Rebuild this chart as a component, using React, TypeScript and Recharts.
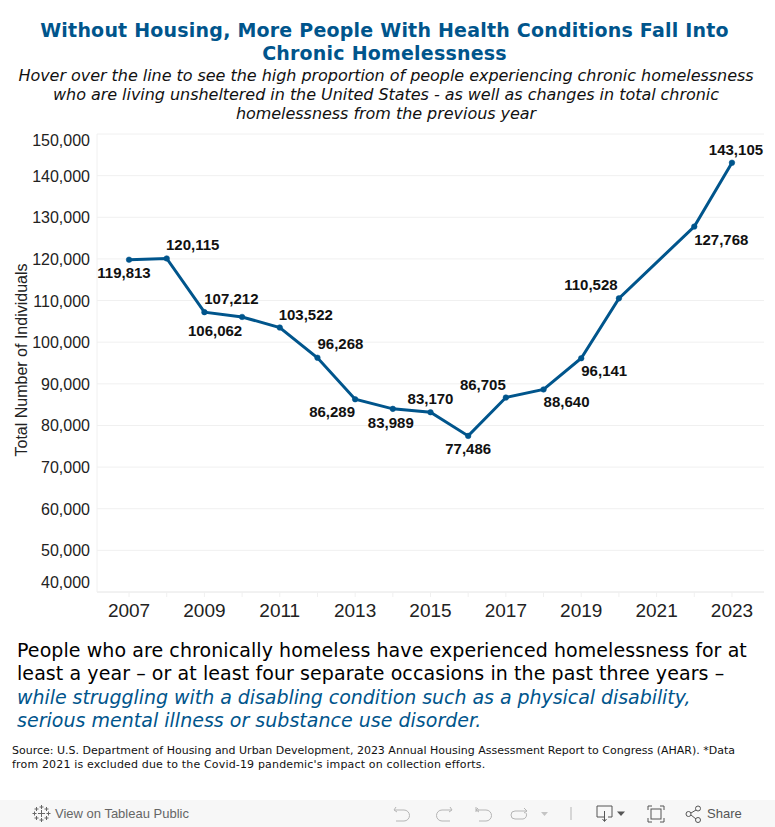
import React from "react";
import { LineChart, Line, XAxis, YAxis, CartesianGrid, ReferenceLine } from "recharts";

const years = [2007, 2008, 2009, 2010, 2011, 2012, 2013, 2014, 2015, 2016, 2017, 2018, 2019, 2020, 2022, 2023];
const totals = [119813, 120115, 107212, 106062, 103522, 96268, 86289, 83989, 83170, 77486, 86705, 88640, 96141, 110528, 127768, 143105];
const yTicks = [40000, 50000, 60000, 70000, 80000, 90000, 100000, 110000, 120000, 130000, 140000, 150000];
const xTicks = [2007, 2008, 2009, 2010, 2011, 2012, 2013, 2014, 2015, 2016, 2017, 2018, 2019, 2020, 2021, 2022, 2023];
const yAxisTitle = "Total Number of Individuals";
const labelDx = [-5, 26, 27, -27, 26, 23, -23, -2, 0, 0, -23, 23, 23, -28, 27, 4];
const labelDy = [13, -13, -13, 14, -13, -14, 13, 14, -13, 13, -13, 13, 13, -13, 13, -13];

const titleLines = ["Without Housing, More People With Health Conditions Fall Into", "Chronic Homelessness"];
const subtitleLines = [
  "Hover over the line to see the high proportion of people experiencing chronic homelessness",
  "who are living unsheltered in the United States - as well as changes in total chronic",
  "homelessness from the previous year",
];
const bodyLines = [
  "People who are chronically homeless have experienced homelessness for at",
  "least a year – or at least four separate occasions in the past three years –",
];
const bodyItalicLines = [
  "while struggling with a disabling condition such as a physical disability,",
  "serious mental illness or substance use disorder.",
];
const bodyItalicSpacing = [-0.05, 0.02];
const sourceLines = [
  "Source: U.S. Department of Housing and Urban Development, 2023 Annual Housing Assessment Report to Congress (AHAR). *Data",
  "from 2021 is excluded due to the Covid-19 pandemic's impact on collection efforts.",
];
const sourceSpacing = [0, 0.17];

const rows = years.map((year, i) => ({ year, total: totals[i] }));
const BLUE = "#00558c";
const GRID = "#f0f0f0";
const SANS = "'Liberation Sans', Arial, sans-serif";
const DEJA = "'DejaVu Sans', sans-serif";

const YTick = (p: any) => {
  const v = p.payload.value;
  const dy = v === 150000 ? 12 : v === 40000 ? -4 : 6;
  return (
    <text x={90} y={p.y + dy} textAnchor="end" fontFamily={SANS} fontSize={16} fill="#222">
      {v.toLocaleString("en-US")}
    </text>
  );
};
const XTick = (p: any) => {
  const v = p.payload.value;
  if (v % 2 === 0) return <g />;
  return (
    <text x={p.x} y={p.y + 18} textAnchor="middle" fontFamily={SANS} fontSize={19} fill="#222">
      {v}
    </text>
  );
};
const PointLabel = (p: any) => (
  <text
    x={p.x + labelDx[p.index]}
    y={p.y + labelDy[p.index] + 5}
    textAnchor="middle"
    fontFamily={SANS}
    fontSize={15}
    fontWeight={700}
    fill="#111"
  >
    {p.value.toLocaleString("en-US")}
  </text>
);
const AxisTitle = () => (
  <text
    transform="translate(27 360) rotate(-90)"
    textAnchor="middle"
    fontFamily={SANS}
    fontSize={16}
    fill="#222"
  >
    {yAxisTitle}
  </text>
);

const Line1 = ({ top, left, center, style, children }: any) => (
  <div
    style={{
      position: "absolute",
      top,
      left: center ? 0 : left,
      width: center ? 775 + center : undefined,
      textAlign: center ? "center" : "left",
      whiteSpace: "nowrap",
      ...style,
    }}
  >
    {children}
  </div>
);

const ic = { fill: "none", stroke: "#b5b5b5", strokeWidth: 1 };
const ik = { fill: "none", stroke: "#555", strokeWidth: 1 };

export default function App() {
  return (
    <div style={{ position: "absolute", left: 0, top: 0, width: 775, height: 827, background: "#fff", overflow: "hidden" }}>
      {titleLines.map((t, i) => (
        <Line1 key={t} center={-6} top={19 + i * 23} style={{ font: `700 19px/23px ${DEJA}`, color: BLUE, letterSpacing: 0.21 }}>{t}</Line1>
      ))}
      {subtitleLines.map((t, i) => (
        <Line1 key={t} center={-3} top={66 + i * 19} style={{ font: `italic 400 16px/19px ${DEJA}`, color: "#111", letterSpacing: -0.04 }}>{t}</Line1>
      ))}
      <div style={{ position: "absolute", left: 0, top: 0 }}>
        <LineChart width={775} height={632} data={rows} margin={{ top: 134, right: 11, bottom: 0, left: 0 }}>
          <CartesianGrid horizontal vertical={false} stroke={GRID} />
          <XAxis
            dataKey="year"
            type="number"
            domain={[2006.15, 2023.85]}
            ticks={xTicks}
            interval={0}
            height={40}
            tick={XTick}
            tickLine={{ stroke: GRID }}
            tickSize={5}
            axisLine={{ stroke: GRID }}
          />
          <YAxis
            type="number"
            domain={[40000, 150000]}
            ticks={yTicks}
            interval={0}
            width={97}
            tick={YTick}
            tickLine={false}
            axisLine={{ stroke: GRID }}
            label={AxisTitle}
          />
          <ReferenceLine y={40000} stroke={GRID} />
          <Line
            dataKey="total"
            stroke={BLUE}
            strokeWidth={3}
            dot={{ r: 2.8, fill: BLUE, stroke: BLUE, strokeWidth: 0.5 }}
            activeDot={false}
            label={PointLabel}
            isAnimationActive={false}
          />
        </LineChart>
      </div>
      {bodyLines.map((t, i) => (
        <Line1 key={t} left={17} top={638 + i * 23.3} style={{ font: `400 19px/24px ${DEJA}`, color: "#000", letterSpacing: 0.08 }}>{t}</Line1>
      ))}
      {bodyItalicLines.map((t, i) => (
        <Line1 key={t} left={17} top={685 + i * 23.3} style={{ font: `italic 400 19px/24px ${DEJA}`, color: BLUE, letterSpacing: bodyItalicSpacing[i] }}>{t}</Line1>
      ))}
      {sourceLines.map((t, i) => (
        <Line1 key={t} left={12} top={744 + i * 14} style={{ font: `400 11px/14px ${DEJA}`, color: "#111", letterSpacing: sourceSpacing[i] }}>{t}</Line1>
      ))}
      <div style={{ position: "absolute", left: 0, top: 800, width: 775, height: 27, background: "#f7f7f7" }} />
      <Line1 left={55} top={806} style={{ font: `400 13px/16px ${SANS}`, color: "#666" }}>View on Tableau Public</Line1>
      <Line1 left={707} top={806} style={{ font: `400 13px/16px ${SANS}`, color: "#555" }}>Share</Line1>
      <svg width={775} height={27} style={{ position: "absolute", left: 0, top: 800 }}>
        <g stroke="#666" strokeWidth={1}>
          <path d="M41.500 10v7M38 13.500h7" />
          <path d="M41.500 5v4M39.500 7h4M41.500 18v4M39.500 20h4M34.500 11.500v4M32.500 13.500h4M48.500 11.500v4M46.500 13.500h4" />
          <path d="M36.500 7v4M34.500 9h4M46.500 7v4M44.500 9h4M36.500 16v4M34.500 18h4M46.500 16v4M44.500 18h4" />
        </g>
        <path d="M396 7l-2 3 3 2M395 10h9a5.500 5.500 0 0 1 0 11h-8" {...ic} />
        <path d="M450 7l2 3-3 2M451 10h-9a5.500 5.500 0 0 0 0 11h8" {...ic} />
        <path d="M476 7v5M476 10h3M478 8l-2 2 3 2M478 10h8a5.500 5.500 0 0 1 0 11h-7" {...ic} />
        <path d="M526 11h-11a4 4 0 0 0 0 8h8a4 4 0 0 0 3-6M524 8l3 3-3 2" {...ic} />
        <path d="M541 12l3.500 4 3.500-4z" fill="#c4c4c4" />
        <path d="M571 7v13" {...ic} />
        <path d="M604 17h-7V6h15v11h-4M604.500 11v10M602.500 19l2 2.500 2-2.500" {...ik} />
        <path d="M617 11.500l4 4.500 4-4.500z" fill="#555" />
        <path d="M648 10V6h4M660 6h4v4M664 18v4h-4M652 22h-4v-4" {...ik} />
        <rect x={651} y={9} width={10} height={10} {...ik} />
        <circle cx={688.500} cy={14} r={2.500} {...ik} />
        <circle cx={698} cy={8.500} r={2.500} {...ik} />
        <circle cx={698} cy={20} r={2.500} {...ik} />
        <path d="M691 13l5-3M691 15l5 4" {...ik} />
      </svg>
    </div>
  );
}
